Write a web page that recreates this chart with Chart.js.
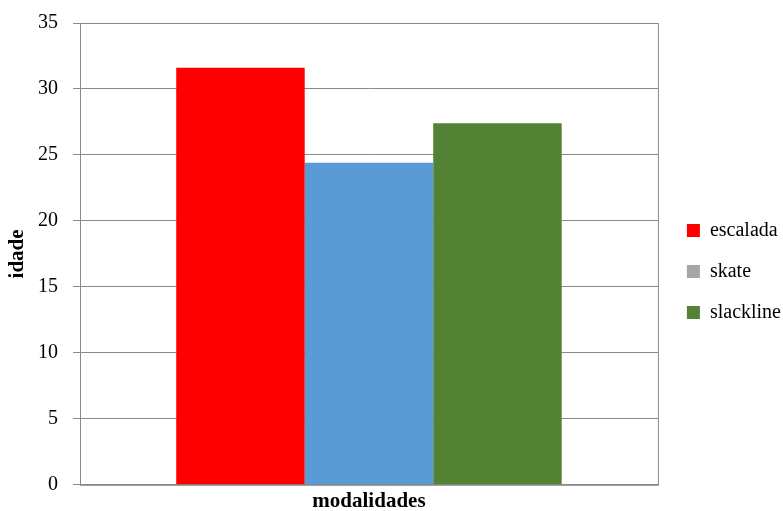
<!DOCTYPE html>
<html>
<head>
<meta charset="utf-8">
<script src="https://cdn.jsdelivr.net/npm/chart.js@4"></script>
<style>
  body { margin: 0; background: #fff; }
  #wrap { width: 783px; height: 511px; }
</style>
</head>
<body>
<div id="wrap"><canvas id="grafico"></canvas></div>
<script>
// dados do gráfico
const categorias = [""];
const series = ["escalada", "skate", "slackline"];
const valores = [31.6, 24.4, 27.4];
const coresBarras = ["#FF0000", "#5B9BD5", "#548235"];
const coresLegenda = ["#FF0000", "#A5A5A5", "#548235"];
const yTicks = [0, 5, 10, 15, 20, 25, 30, 35];

const fonte = "'Liberation Serif', 'DejaVu Serif', serif";

// borda da área do gráfico
const bordaPlot = {
    id: "bordaPlot",
    afterDraw(chart) {
        const { ctx, chartArea } = chart;
        ctx.save();
        ctx.strokeStyle = "#898989";
        ctx.lineWidth = 1;
        ctx.strokeRect(chartArea.left + 0.5, chartArea.top + 0.5,
            chartArea.right - chartArea.left, chartArea.bottom - chartArea.top);
        ctx.restore();
    },
};

// afasta um pouco a legenda do gráfico
const moveLegenda = {
    id: "moveLegenda",
    afterLayout(chart) {
        const leg = chart.legend;
        leg.left += 8;
        leg.right += 8;
        leg.top += 4.5;
        leg.bottom += 4.5;
    },
};

const datasets = series.map((nome, i) => ({
    label: nome,
    data: [valores[i]],
    backgroundColor: coresBarras[i],
    categoryPercentage: 0.667,
    barPercentage: 1.0,
}));

new Chart(document.getElementById("grafico"), {
    type: "bar",
    data: { labels: categorias, datasets: datasets },
    options: {
        responsive: true,
        maintainAspectRatio: false,
        animation: false,
        layout: { padding: { top: 23, right: 0, bottom: 0, left: 5 } },
        plugins: {
            tooltip: { enabled: false },
            legend: {
                position: "right",
                labels: {
                    boxWidth: 13,
                    boxHeight: 13,
                    padding: 21,
                    color: "#000",
                    font: { family: fonte, size: 20 },
                    generateLabels: (chart) =>
                        series.map((nome, i) => ({
                            text: nome,
                            fillStyle: coresLegenda[i],
                            strokeStyle: coresLegenda[i],
                            lineWidth: 0,
                            datasetIndex: i,
                        })),
                },
            },
        },
        scales: {
            x: {
                ticks: { display: false },
                grid: { display: false, drawTicks: false },
                border: { color: "#898989" },
                title: {
                    display: true,
                    text: "modalidades",
                    color: "#000",
                    font: { family: fonte, size: 21, weight: "bold" },
                    padding: { top: 4, bottom: -3 },
                },
            },
            y: {
                min: 0,
                max: 35,
                afterBuildTicks: (axis) => {
                    axis.ticks = yTicks.map((v) => ({ value: v }));
                },
                afterFit: (axis) => {
                    axis.width = 75;
                    axis.paddingTop = 0;
                    axis.paddingBottom = 0;
                },
                ticks: {
                    color: "#000",
                    font: { family: fonte, size: 20 },
                    padding: 15,
                },
                grid: { color: "#898989", tickLength: 7 },
                border: { color: "#898989" },
                title: {
                    display: true,
                    text: "idade",
                    color: "#000",
                    font: { family: fonte, size: 21, weight: "bold" },
                    padding: { top: 0, bottom: 0 },
                },
            },
        },
    },
    plugins: [bordaPlot, moveLegenda],
});
</script>
</body>
</html>
